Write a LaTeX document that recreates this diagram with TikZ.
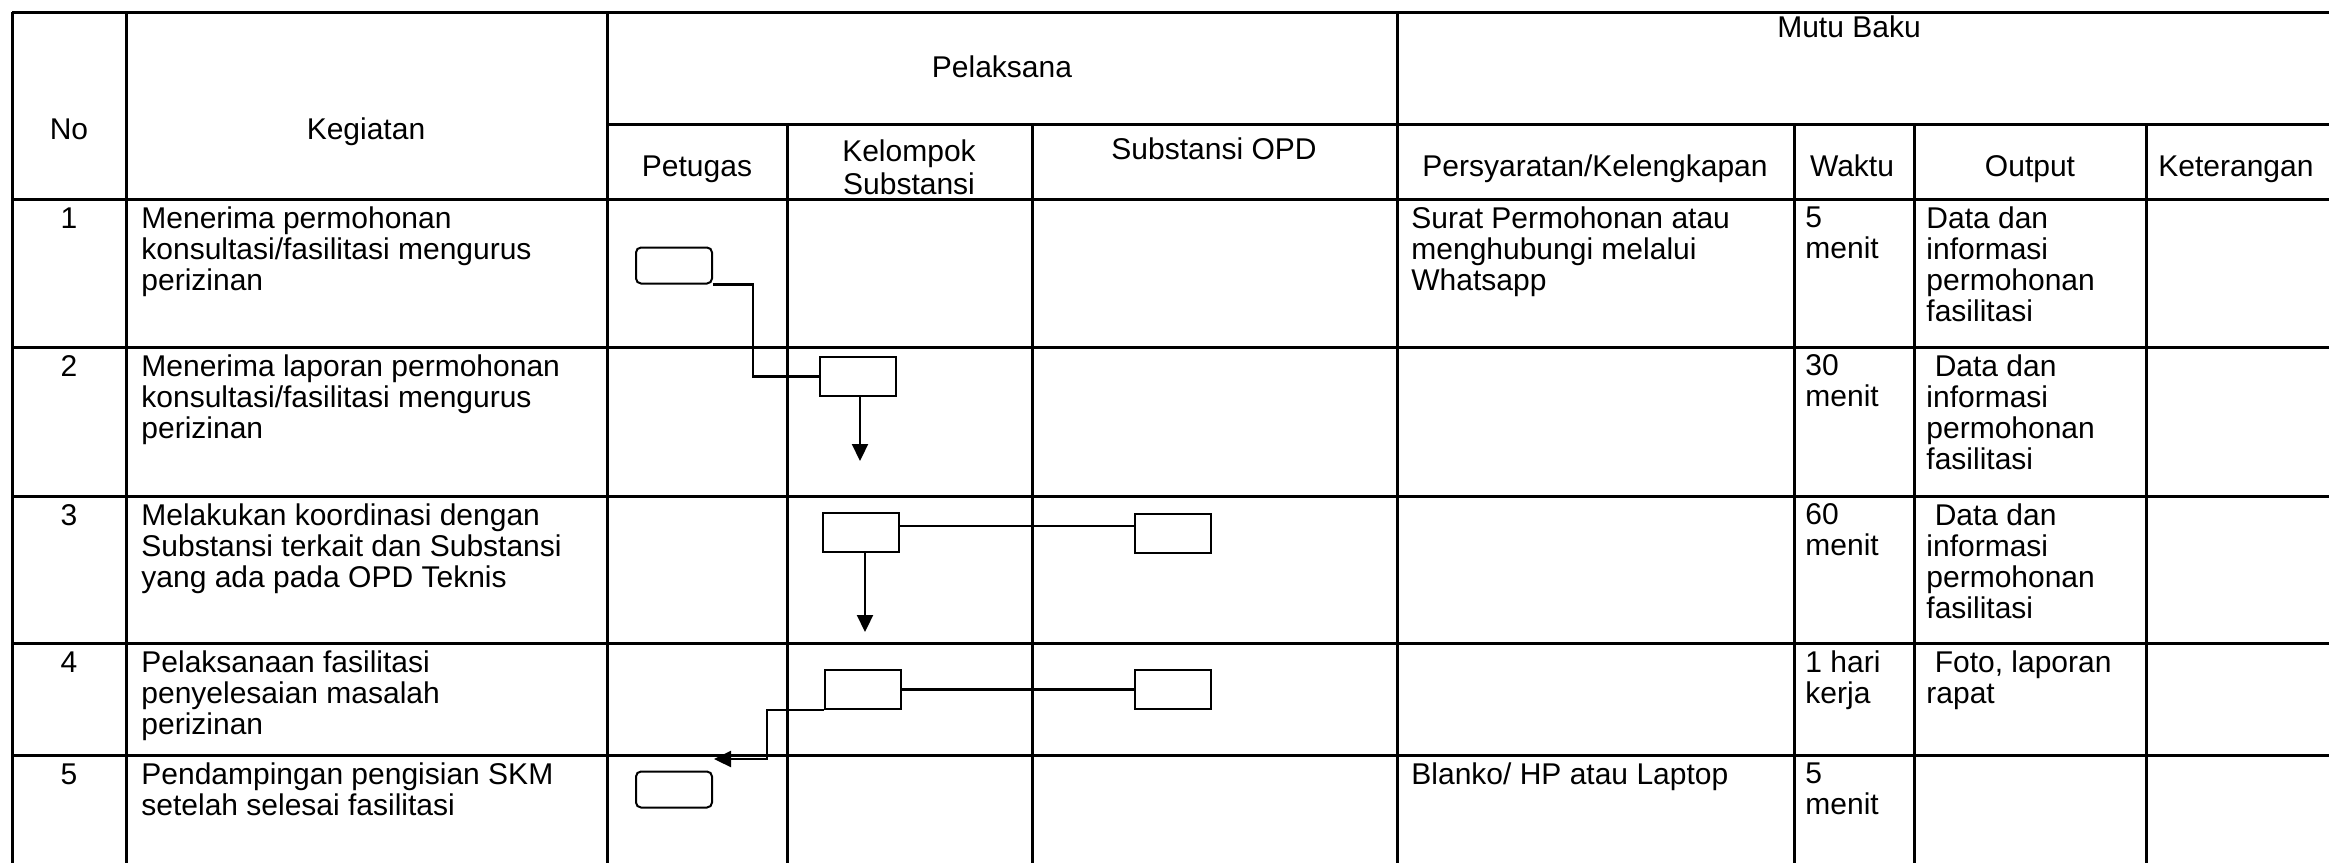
\documentclass[tikz,border=0pt]{standalone}
\usepackage{fontspec}
\setmainfont{Liberation Sans}
\usetikzlibrary{arrows.meta}
\usetikzlibrary{calc}

\newcommand{\cellfont}{\fontsize{15pt}{15.5pt}\selectfont}

\tikzset{
  rule/.style={line width=1.5pt},
  txt/.style={font=\cellfont, inner sep=0pt, align=left, anchor=north west, execute at begin node=\strut},
  num/.style={font=\cellfont, inner sep=0pt, anchor=north, execute at begin node=\strut},
  head/.style={font=\cellfont, inner sep=0pt, anchor=base, align=center},
  task/.style={draw, line width=1pt, minimum width=38pt, minimum height=19.5pt, inner sep=0pt},
  endtask/.style={task, rounded corners=2.5pt, minimum height=18pt},
  link/.style={line width=1.1pt},
  flow/.style={link, -{Triangle[length=8.5pt, width=8pt]}}
}

\begin{document}
\begin{tikzpicture}[x=0.5pt, y=-0.5pt]
\useasboundingbox (0,0) rectangle (2329,863);
\draw[rule] (12,12) -- (2329,12);
\draw[rule] (607,124) -- (2329,124);
\foreach \y in {199, 347, 496, 643, 755} {
 \draw[rule] (12,\y) -- (2329,\y);
}
\foreach \x in {12, 126, 607, 1397} {
 \draw[rule] (\x,12) -- (\x,863);
}
\foreach \x in {787, 1032, 1794, 1914, 2146} {
 \draw[rule] (\x,124) -- (\x,863);
}

\node[head] (hno) at (69,139) {No};
\node[head] (hkeg) at (366,139) {Kegiatan};
\node[head] (hpel) at (1002,77) {Pelaksana};
\node[head] (hmutu) at (1849,37) {Mutu Baku};
\node[head] (hpet) at (697,176) {Petugas};
\node[head, anchor=north] (hkel) at (909,139) {\strut Kelompok\\Substansi};
\node[head] (hopd) at (1214,159) {Substansi OPD};
\node[head] (hsyarat) at (1595,176) {Persyaratan/Kelengkapan};
\node[head] (hwaktu) at (1852,176) {Waktu};
\node[head] (hout) at (2030,176) {Output};
\node[head, anchor=base west] (hket) at (2158,176) {Keterangan};

\foreach \n/\y in {1/206, 2/354, 3/503, 4/650, 5/762} {
 \node[num] (no\n) at (69,\y) {\n};
}
\node[txt] (keg1) at (141,206) {Menerima permohonan\\konsultasi/fasilitasi mengurus\\perizinan};
\node[txt] (keg2) at (141,354) {Menerima laporan permohonan\\konsultasi/fasilitasi mengurus\\perizinan};
\node[txt] (keg3) at (141,503) {Melakukan koordinasi dengan\\Substansi terkait dan Substansi\\yang ada pada OPD Teknis};
\node[txt] (keg4) at (141,650) {Pelaksanaan fasilitasi\\penyelesaian masalah\\perizinan};
\node[txt] (keg5) at (141,762) {Pendampingan pengisian SKM\\setelah selesai fasilitasi};

\node[txt] (syarat1) at (1411,206) {Surat Permohonan atau\\menghubungi melalui\\Whatsapp};
\node[txt] (syarat5) at (1411,762) {Blanko/ HP atau Laptop};

\node[txt] (waktu1) at (1805,206) {5\\menit};
\node[txt] (waktu2) at (1805,354) {30\\menit};
\node[txt] (waktu3) at (1805,503) {60\\menit};
\node[txt] (waktu4) at (1805,650) {1 hari\\kerja};
\node[txt] (waktu5) at (1805,762) {5\\menit};

\node[txt] (out1) at (1926,206) {Data dan\\informasi\\permohonan\\fasilitasi};
\node[txt] (out2) at (1926,354) {\ Data dan\\informasi\\permohonan\\fasilitasi};
\node[txt] (out3) at (1926,503) {\ Data dan\\informasi\\permohonan\\fasilitasi};
\node[txt] (out4) at (1926,650) {\ Foto, laporan\\rapat};

\node[endtask] (b1) at (674,265.5) {};
\node[task] (b2) at (858,376.5) {};
\node[task] (b3) at (861,532) {};
\node[task] (b4) at (1173,533) {};
\node[task] (b5) at (863,689.5) {};
\node[task] (b6) at (1173,689.5) {};
\node[endtask] (b7) at (674,789.5) {};

\coordinate (t2) at (860,461);
\coordinate (t3) at (865,632);
\coordinate (t5) at (714,759);

\draw[link] (b1.south east) -- ++(40,0) |- (b2.west);
\draw[flow] (b2.south -| t2) -- (t2);
\draw[link] ([yshift=3pt]b3.east) -- ([yshift=3pt]b3.east -| b4.west);
\draw[flow] (b3.south -| t3) -- (t3);
\draw[link] (b5) -- (b6);
\draw[flow] (b5.south west) -- ++(-57,0) |- (t5);
\end{tikzpicture}
\end{document}
